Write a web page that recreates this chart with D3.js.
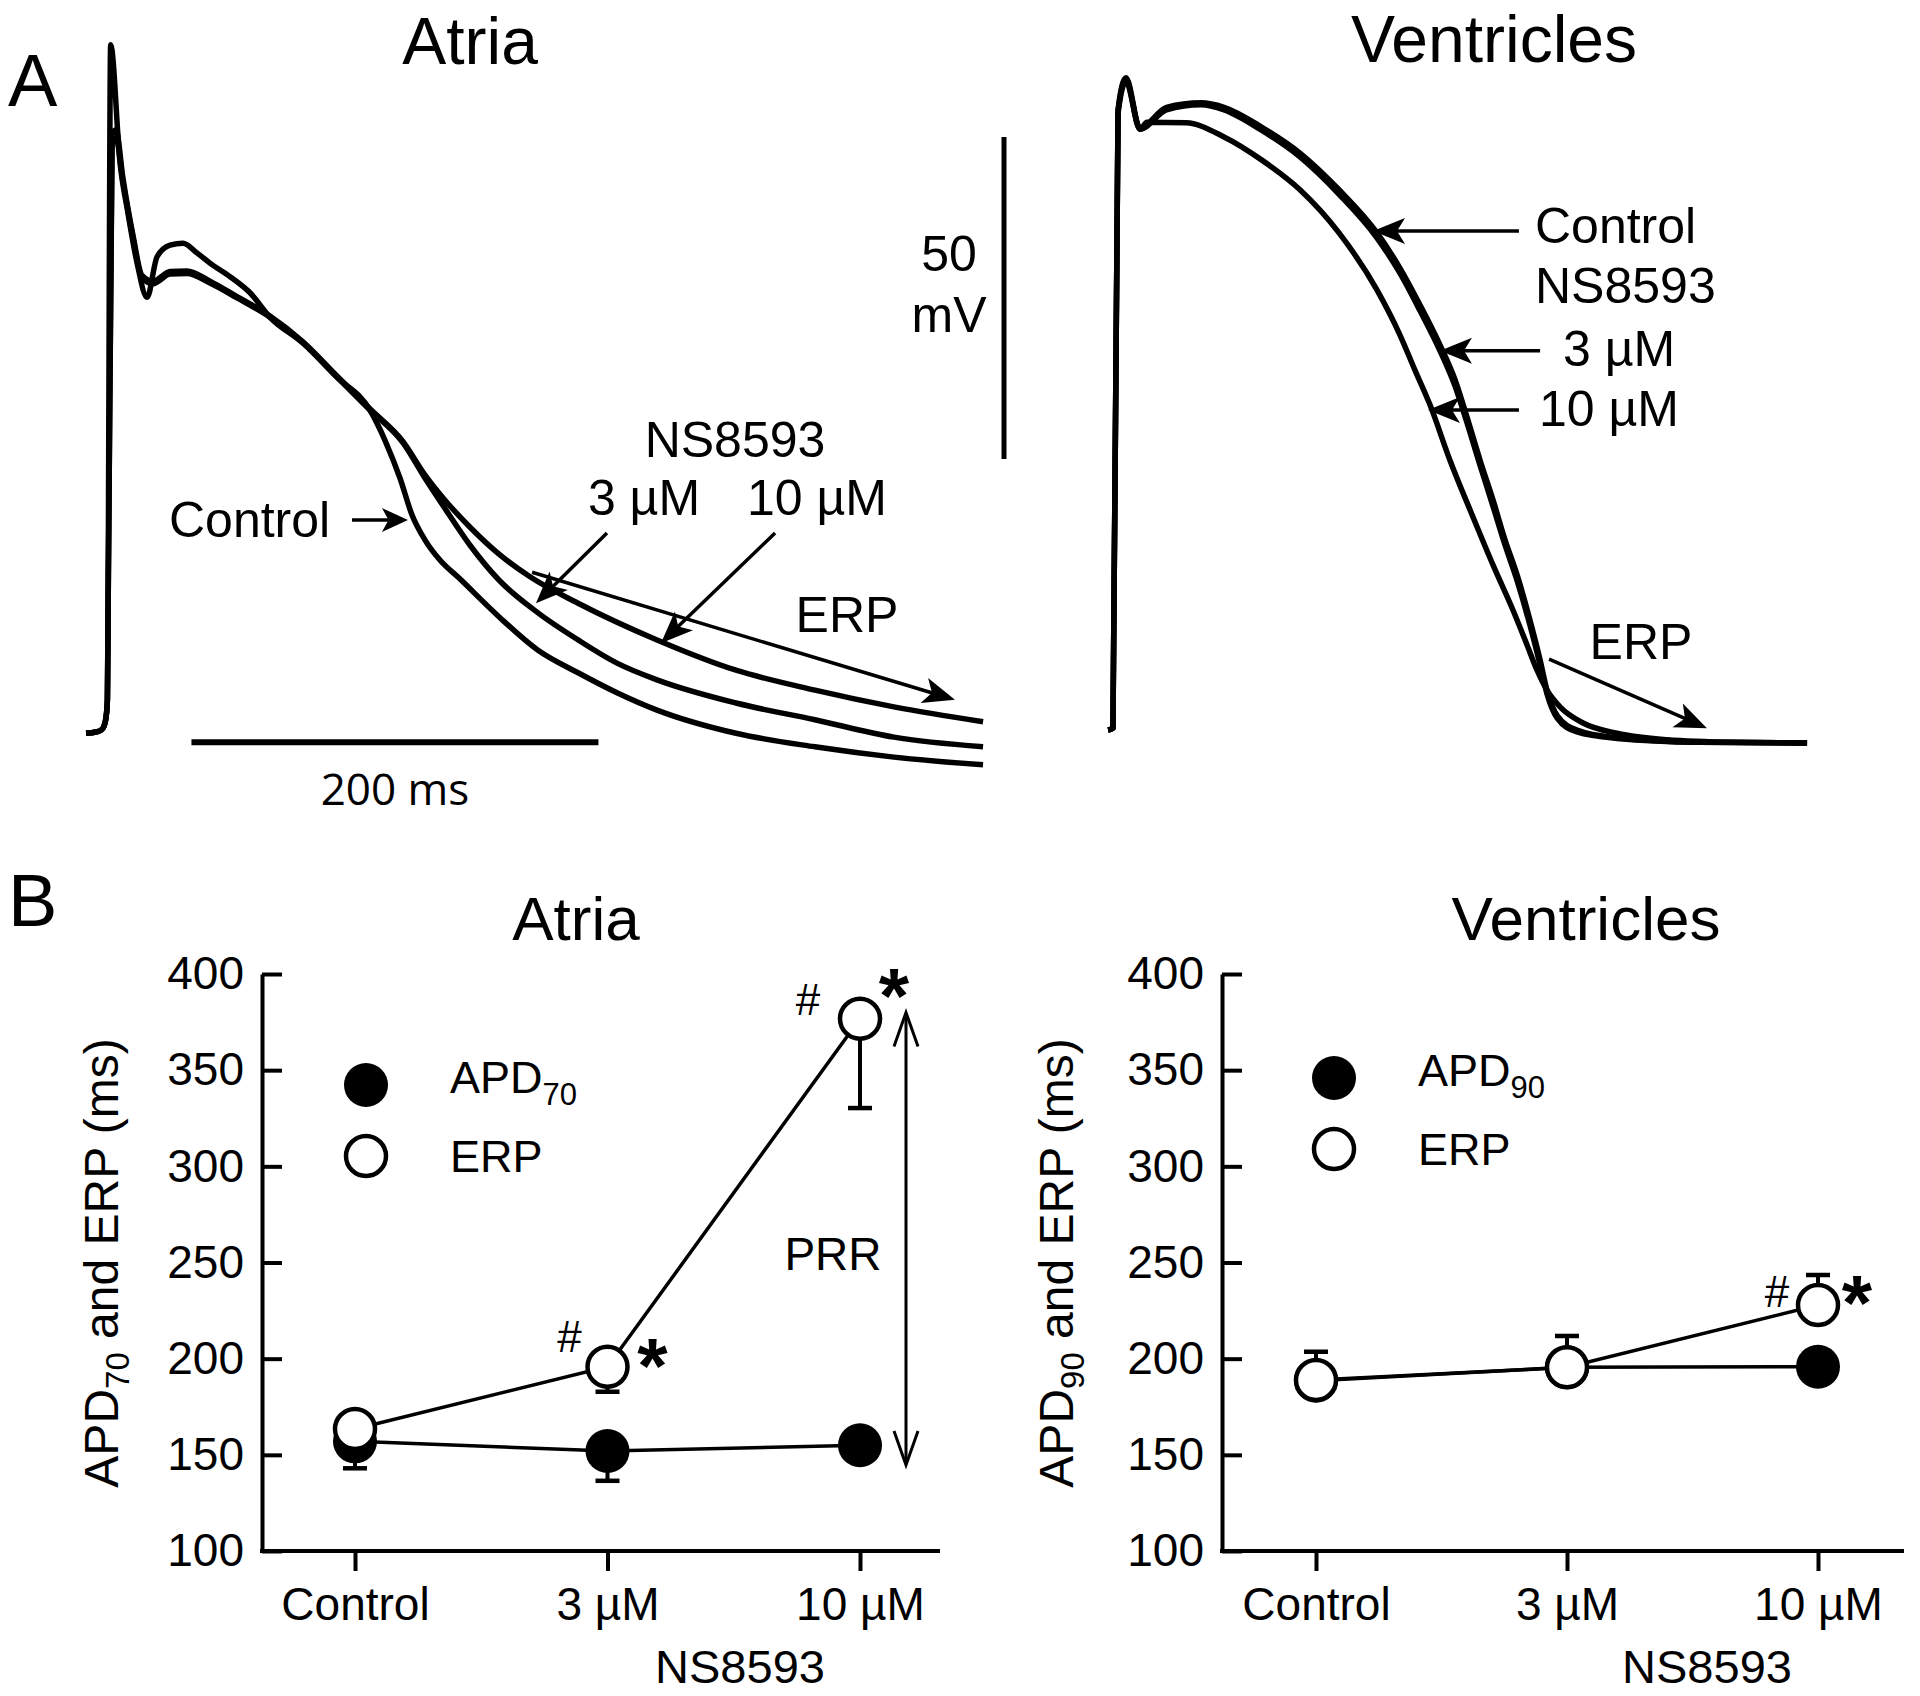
<!DOCTYPE html>
<html>
<head>
<meta charset="utf-8">
<script src="https://cdn.jsdelivr.net/npm/d3@7"></script>
<style>
body{margin:0;background:#fff}
svg text{font-family:"Liberation Sans",Arial,Helvetica,sans-serif;fill:#000}
</style>
</head>
<body>
<div id="fig"></div>
<script>
// ---------- panel A: action potentials, [time ms, Vm mV] ----------
const atriaControl = [[-10.8,-80.2],[-5.9,-80.0],[-3.4,-79.7],[-2.0,-79.1],[-1.0,-77.8],[-0.3,-75.0],
  [1.3,26.7],[5.9,8.4],[9.8,0.6],[14.3,-7.2],[19.2,-12.5],[24.1,-6.2],[30.5,-4.4],[36.9,-4.1],[43.7,-5.6],
  [50.1,-7.2],[60.0,-9.3],[69.8,-11.8],[79.6,-15.6],[95.8,-19.6],[112.5,-24.9],[128.7,-30.0],[136.1,-34.7],
  [143.5,-40.6],[149.4,-46.3],[155.8,-50.2],[163.1,-53.3],[172.5,-56.1],[192.1,-62.1],[211.3,-67.3],
  [231.0,-70.8],[250.1,-73.9],[269.8,-76.6],[308.6,-80.2],[347.4,-82.3],[386.2,-83.9],[430.0,-85.1]];
const atria3uM = [[-10.8,-80.2],[-5.9,-80.0],[-3.4,-79.7],[-2.0,-79.1],[-1.0,-77.8],[-0.3,-75.0],
  [2.0,11.5],[3.9,12.2],[7.4,5.4],[12.3,-3.3],[16.7,-9.5],[22.1,-10.4],[30.5,-8.9],[38.8,-8.8],[50.1,-10.3],
  [63.4,-12.6],[79.6,-15.6],[95.8,-19.6],[112.5,-24.9],[128.7,-30.0],[145.0,-35.1],[155.8,-40.6],[165.6,-45.3],
  [177.9,-51.0],[192.1,-56.4],[211.3,-61.5],[231.0,-65.7],[250.1,-69.3],[269.8,-71.9],[308.6,-75.5],
  [347.4,-78.1],[386.2,-80.8],[430.0,-82.3]];
const atria10uM = [[-10.8,-80.2],[-5.9,-80.0],[-3.4,-79.7],[-2.0,-79.1],[-1.0,-77.8],[-0.3,-75.0],
  [2.0,12.8],[3.9,13.5],[7.4,5.9],[12.3,-2.9],[16.7,-9.1],[22.1,-10.0],[30.5,-8.5],[38.8,-8.4],[50.1,-10.0],
  [63.4,-12.4],[79.6,-15.4],[95.8,-19.4],[112.5,-24.7],[128.7,-29.8],[145.0,-34.9],[155.8,-40.1],[165.6,-44.0],
  [177.9,-48.2],[192.6,-52.5],[207.4,-55.9],[231.0,-60.0],[269.8,-65.7],[308.6,-70.4],[347.4,-73.5],
  [386.2,-76.1],[430.0,-78.4]];

const ventControl = [[-3.9,-79.7],[-1.5,-79.4],[1.0,16.6],[4.9,21.6],[11.8,13.8],[24.8,17.0],[41.8,17.7],
  [53.1,17.0],[71.7,13.9],[90.4,9.9],[109.6,4.2],[128.3,-2.5],[139.6,-8.0],[149.4,-13.7],[159.2,-19.9],
  [166.6,-25.3],[172.0,-30.6],[178.9,-37.8],[185.3,-44.0],[191.2,-50.2],[197.1,-55.6],[203.4,-62.6],
  [208.4,-68.8],[211.8,-73.5],[216.7,-77.4],[226.5,-79.7],[246.2,-80.9],[287.0,-81.6],[339.6,-81.7]];
const vent3uM = [[-3.9,-79.7],[-1.5,-79.4],[1.0,16.0],[4.9,21.0],[11.8,13.6],[24.8,16.6],[41.8,17.4],
  [53.1,16.6],[71.7,13.4],[90.4,9.3],[109.6,3.5],[128.3,-3.3],[139.6,-8.8],[149.4,-14.6],[159.2,-20.8],
  [166.6,-26.3],[172.0,-31.5],[178.9,-38.6],[185.3,-45.0],[191.2,-51.0],[197.1,-56.5],[203.4,-63.4],
  [208.4,-69.6],[211.8,-74.1],[216.7,-77.8],[226.5,-80.0],[246.2,-81.0],[287.0,-81.6],[339.6,-81.7]];
const vent10uM = [[-3.9,-79.7],[-1.5,-79.4],[1.0,16.4],[4.9,21.4],[11.8,13.6],[15.2,14.7],[34.4,14.6],
  [53.1,12.4],[71.7,8.8],[90.4,4.2],[109.6,-2.5],[128.3,-11.4],[139.6,-18.4],[146.9,-23.8],[154.3,-29.2],
  [164.1,-37.8],[175.4,-46.6],[185.3,-54.1],[195.1,-61.1],[202.0,-66.5],[206.9,-70.4],[211.8,-73.5],
  [218.2,-76.1],[229.5,-78.6],[246.2,-80.2],[270.8,-81.2],[303.2,-81.6],[339.6,-81.7]];

// ---------- panel B: durations (ms) ----------
const conditions = ["Control", "3 µM", "10 µM"];
const yTicks = [100, 150, 200, 250, 300, 350, 400];
const atriaAPD70 = [157, 152, 155];
const atriaAPD70Err = [143, 136.5, null];
const atriaERP = [163.4, 195.8, 376.7];
const atriaERPErr = [null, 182.8, 330.3];
const ventAPD90 = [188.5, 195.5, 195.8];
const ventAPD90Err = [null, null, null];
const ventERP = [188.9, 195.5, 227.9];
const ventERPErr = [203.6, 211.8, 243.5];

const W = 1920, H = 1696;
const svg = d3.select("#fig").append("svg").attr("width", W).attr("height", H);

// arrow with filled, notched head
function arrow(g, x1, y1, x2, y2, hl = 32, hw = 13, sw = 3.5) {
  const a = Math.atan2(y2 - y1, x2 - x1), c = Math.cos(a), s = Math.sin(a);
  const bx = x2 - hl * c, by = y2 - hl * s;
  g.append("line").attr("x1", x1).attr("y1", y1)
    .attr("x2", x2 - hl * 0.6 * c).attr("y2", y2 - hl * 0.6 * s)
    .attr("stroke", "#000").attr("stroke-width", sw);
  g.append("path")
    .attr("d", d3.line()([[x2, y2], [bx - hw * s, by + hw * c], [x2 - hl * 0.75 * c, y2 - hl * 0.75 * s], [bx + hw * s, by - hw * c]]) + "Z")
    .attr("fill", "#000");
}

// ---------- panel A ----------
const gA = svg.append("g");
const yA = d3.scaleLinear().domain([-80, -30]).range([732, 410]);
const xAt = d3.scaleLinear().domain([0, 200]).range([108, 515]);
const xVe = d3.scaleLinear().domain([0, 200]).range([1116, 1523]);

function traces(xs, list) {
  const ln = d3.line().x(d => xs(d[0])).y(d => yA(d[1])).curve(d3.curveMonotoneX);
  gA.selectAll(null).data(list).enter().append("path")
    .attr("d", ln).attr("fill", "none").attr("stroke", "#000")
    .attr("stroke-width", 5.5).attr("stroke-linejoin", "round");
}
traces(xAt, [atriaControl, atria3uM, atria10uM]);
traces(xVe, [ventControl, vent3uM, vent10uM]);

gA.append("text").text("A").attr("x", 8).attr("y", 106).attr("font-size", 74);
gA.append("text").text("Atria").attr("x", 470).attr("y", 64).attr("font-size", 66).attr("text-anchor", "middle");
gA.append("text").text("Ventricles").attr("x", 1494).attr("y", 62).attr("font-size", 66).attr("text-anchor", "middle");

// scale bars
gA.append("line").attr("x1", xAt(41)).attr("x2", xAt(241)).attr("y1", yA(-81.6)).attr("y2", yA(-81.6))
  .attr("stroke", "#000").attr("stroke-width", 6);
gA.append("text").text("200 ms").attr("x", xAt(141)).attr("y", 805).attr("font-size", 44)
  .attr("text-anchor", "middle").style("font-family", "'Open Sans', sans-serif");
gA.append("line").attr("x1", xAt(440.3)).attr("x2", xAt(440.3)).attr("y1", yA(12.4)).attr("y2", yA(-37.6))
  .attr("stroke", "#000").attr("stroke-width", 5);
gA.append("text").text("50").attr("x", 949).attr("y", 271).attr("font-size", 50).attr("text-anchor", "middle");
gA.append("text").text("mV").attr("x", 949).attr("y", 332).attr("font-size", 50).attr("text-anchor", "middle");

// atria labels and arrows
const lbl = (t, x, y, anchor = "start") =>
  gA.append("text").text(t).attr("x", x).attr("y", y).attr("font-size", 50).attr("text-anchor", anchor);
lbl("Control", 169, 537);
arrow(gA, xAt(119.9), yA(-47.1), xAt(147.4), yA(-47.1), 26, 12);
lbl("NS8593", 735, 457, "middle");
lbl("3 µM", 644, 515, "middle");
lbl("10 µM", 817, 515, "middle");
arrow(gA, xAt(245.2), yA(-49.1), xAt(210.3), yA(-60.0));
arrow(gA, xAt(327.8), yA(-49.1), xAt(271.7), yA(-66.2));
arrow(gA, xAt(208.4), yA(-55.2), xAt(416.2), yA(-75.0));
lbl("ERP", 847, 632, "middle");

// ventricle labels and arrows
lbl("Control", 1535, 243);
lbl("NS8593", 1535, 303);
lbl("3 µM", 1563, 366);
lbl("10 µM", 1539, 426);
arrow(gA, xVe(198.0), yA(-2.2), xVe(126.3), yA(-2.2));
arrow(gA, xVe(208.4), yA(-20.8), xVe(159.2), yA(-20.8));
arrow(gA, xVe(198.0), yA(-30.0), xVe(153.3), yA(-30.0));
arrow(gA, xVe(212.8), yA(-68.7), xVe(290.4), yA(-79.4));
lbl("ERP", 1641, 659, "middle");

// ---------- panel B ----------
const yB = d3.scaleLinear().domain([100, 400]).range([1551, 974]);
svg.append("text").text("B").attr("x", 8).attr("y", 926).attr("font-size", 74);

function panelB(o) {
  const g = svg.append("g");
  const x = d3.scalePoint().domain(conditions).range([o.x0, o.x2]);

  g.append("text").text(o.title).attr("x", o.titleX).attr("y", 940)
    .attr("font-size", 62).attr("text-anchor", "middle");

  const ya = g.append("g").attr("transform", `translate(${o.axisX},0)`)
    .call(d3.axisLeft(yB).tickValues(yTicks).tickSize(-20).tickSizeOuter(0).tickPadding(18));
  ya.selectAll("path,line").attr("stroke-width", 4);
  ya.selectAll("text").attr("font-size", 46).style("font-family", "'Liberation Sans', Arial, sans-serif");

  const xa = g.append("g").attr("transform", "translate(0,1551)")
    .call(d3.axisBottom(x).tickSize(20).tickSizeOuter(0));
  xa.select(".domain").remove();
  xa.selectAll("line").attr("stroke-width", 4);
  xa.selectAll("text").attr("font-size", 46).attr("y", 69).attr("dy", 0)
    .style("font-family", "'Liberation Sans', Arial, sans-serif");
  g.append("line").attr("x1", o.axisX - 2).attr("x2", o.axisEnd).attr("y1", 1551).attr("y2", 1551)
    .attr("stroke", "#000").attr("stroke-width", 4);

  g.append("text").text("NS8593").attr("x", o.nsX).attr("y", 1683)
    .attr("font-size", 47).attr("text-anchor", "middle");

  const yl = g.append("text").attr("transform", `translate(${o.ylabX},1263) rotate(-90)`)
    .attr("font-size", 48).attr("text-anchor", "middle");
  yl.append("tspan").text("APD");
  yl.append("tspan").text(o.sub).attr("font-size", 33).attr("dy", 11);
  yl.append("tspan").text(" and ERP (ms)").attr("dy", -11);

  const line = d3.line().x((d, i) => x(conditions[i])).y(d => yB(d));
  const errBars = (vals, ends) => {
    vals.forEach((v, i) => {
      if (ends[i] == null) return;
      const cx = x(conditions[i]);
      g.append("line").attr("x1", cx).attr("x2", cx).attr("y1", yB(v)).attr("y2", yB(ends[i]))
        .attr("stroke", "#000").attr("stroke-width", 4);
      g.append("line").attr("x1", cx - 12).attr("x2", cx + 12).attr("y1", yB(ends[i])).attr("y2", yB(ends[i]))
        .attr("stroke", "#000").attr("stroke-width", 4.5);
    });
  };
  g.append("path").attr("d", line(o.apd)).attr("fill", "none").attr("stroke", "#000").attr("stroke-width", 3.5);
  g.append("path").attr("d", line(o.erp)).attr("fill", "none").attr("stroke", "#000").attr("stroke-width", 3.5);
  errBars(o.apd, o.apdErr);
  errBars(o.erp, o.erpErr);
  g.selectAll(null).data(o.apd).enter().append("circle")
    .attr("cx", (d, i) => x(conditions[i])).attr("cy", d => yB(d)).attr("r", 22).attr("fill", "#000");
  g.selectAll(null).data(o.erp).enter().append("circle")
    .attr("cx", (d, i) => x(conditions[i])).attr("cy", d => yB(d)).attr("r", 20)
    .attr("fill", "#fff").attr("stroke", "#000").attr("stroke-width", 4.5);

  // legend
  const lx = o.legX, ly = o.legY;
  g.append("circle").attr("cx", lx).attr("cy", ly).attr("r", 22).attr("fill", "#000");
  g.append("circle").attr("cx", lx).attr("cy", ly + 71).attr("r", 20).attr("fill", "#fff")
    .attr("stroke", "#000").attr("stroke-width", 4.5);
  const t1 = g.append("text").attr("x", lx + 84).attr("y", ly + 8).attr("font-size", 45);
  t1.append("tspan").text("APD");
  t1.append("tspan").text(o.sub).attr("font-size", 31).attr("dy", 12);
  g.append("text").text("ERP").attr("x", lx + 84).attr("y", ly + 87).attr("font-size", 45);

  // significance marks
  o.marks.forEach(m => {
    const cx = x(conditions[m.i]), cy = yB(o.erp[m.i]);
    g.append("text").text("#").attr("x", cx + m.hx).attr("y", cy + m.hy + 15)
      .attr("font-size", 44).attr("text-anchor", "middle");
    g.append("text").text("*").attr("x", cx + m.sx).attr("y", cy + m.sy + 40)
      .attr("font-size", 78).attr("font-weight", "bold").attr("text-anchor", "middle");
  });
  return { g, x };
}

const pa = panelB({
  title: "Atria", titleX: 576, axisX: 262, axisEnd: 940, x0: 355, x2: 860, nsX: 740, ylabX: 118,
  sub: "70", apd: atriaAPD70, apdErr: atriaAPD70Err, erp: atriaERP, erpErr: atriaERPErr, legX: 366, legY: 1085,
  marks: [{ i: 1, hx: -38, hy: -30, sx: 45, sy: -14 }, { i: 2, hx: -52, hy: -19, sx: 34, sy: -36 }]
});
panelB({
  title: "Ventricles", titleX: 1586, axisX: 1222, axisEnd: 1904, x0: 1316, x2: 1818, nsX: 1707, ylabX: 1073,
  sub: "90", apd: ventAPD90, apdErr: ventAPD90Err, erp: ventERP, erpErr: ventERPErr, legX: 1334, legY: 1078,
  marks: [{ i: 2, hx: -41, hy: -13, sx: 39, sy: -15 }]
});

// PRR double arrow (atria)
const px = 906, pTop = yB(380), pBot = yB(144.7);
pa.g.append("line").attr("x1", px).attr("x2", px).attr("y1", pTop + 2).attr("y2", pBot - 2)
  .attr("stroke", "#000").attr("stroke-width", 3);
[[pTop, 1], [pBot, -1]].forEach(([yy, s]) => {
  pa.g.append("path").attr("d", d3.line()([[px - 12, yy + s * 34], [px, yy], [px + 12, yy + s * 34]]))
    .attr("fill", "none").attr("stroke", "#000").attr("stroke-width", 3);
});
pa.g.append("text").text("PRR").attr("x", 833).attr("y", 1270).attr("font-size", 46).attr("text-anchor", "middle");
</script>
</body>
</html>
